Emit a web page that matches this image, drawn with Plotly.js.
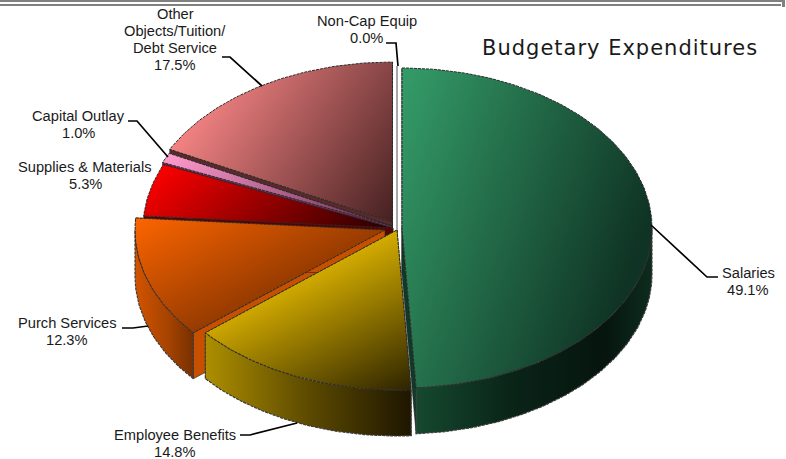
<!DOCTYPE html>
<html>
<head>
<meta charset="utf-8">
<script src="https://cdn.plot.ly/plotly-3.0.1.min.js"></script>
<style>html,body{margin:0;padding:0;background:#fff}#chart{width:786px;height:459px}</style>
</head>
<body>
<div id="chart"></div>
<script>
// Budget shares, in percent, clockwise from twelve o'clock.
const categories = ['Salaries', 'Employee Benefits', 'Purch Services', 'Supplies & Materials', 'Capital Outlay', 'Other Objects/Tuition/Debt Service', 'Non-Cap Equip'];
const shares = [49.1, 14.8, 12.3, 5.3, 1.0, 17.5, 0.0];
const labelNames = [['Salaries'], ['Employee Benefits'], ['Purch Services'], ['Supplies & Materials'], ['Capital Outlay'], ['Other', 'Objects/Tuition/', 'Debt Service'], ['Non-Cap Equip']];
const chartTitle = 'Budgetary Expenditures';

// Pie geometry in plot units.
const RX = 250, RY = 160, DEPTH = 46;
const centres = [[402, 228], [397, 230], [385, 230], [393, 228], [392, 226], [392.5, 222], [397, 222]];
// Top-face gradient per slice: start point, end point, start colour, end colour.
const topFaces = [
  [[402, 100], [660, 190], '#339966', '#0f3324'],
  [[207, 300], [290, 465], '#ecc000', '#1f1800'],
  [[135, 215], [205, 350], '#ff6600', '#853400'],
  [[165, 160], [290, 300], '#ff0000', '#330000'],
  [[170, 155], [300, 300], '#ff99cc', '#663050'],
  [[175, 145], [375, 275], '#f28282', '#3a1a1a'],
  [[397, 60], [397, 230], '#b0b0b0', '#b0b0b0']
];
// Outer wall colours run left to right across the slice.
const wallFaces = [
  [[[0, '#15492f'], [0.4, '#0a2418'], [0.8, '#06150e'], [1, '#0d2c1e']], 416, 652],
  [[[0, '#ad8e00'], [0.5, '#5c4a00'], [1, '#1e1600']], 206, 411],
  [[[0, '#d25400'], [0.55, '#a84400'], [1, '#783000']], 135, 193],
  null, null, null, null
];
const cutColours = ['#0f3a28', '#4a3c00', '#c65000', '#5c0000', '#7a3060', '#5a2a2a', '#b0b0b0'];

const leaderLines = [
  [[651, 225], [707, 277], [718, 277]],
  [[297, 423], [250, 435], [240, 435]],
  [[148, 326], [133, 328], [122, 328]],
  null,
  [[168, 157], [137, 121], [128, 121]],
  [[262, 86], [230, 57], [222, 57]],
  [[398, 66], [396, 43], [386, 43]]
];
// Centre of the first line of each label.
const labelSpots = [[748, 273], [175, 435], [67, 323], [85, 167], [78.5, 116], [175, 14], [366.5, 21]];
const LINE_STEP = 17;

const rad = d => d * Math.PI / 180;
const onRim = (c, deg, drop) => [c[0] + RX * Math.sin(rad(deg)), c[1] - RY * Math.cos(rad(deg)) + (drop || 0)];
function arc(c, from, to, drop) {
  const pts = [], n = Math.max(2, Math.ceil(Math.abs(to - from)));
  for (let i = 0; i <= n; i++) pts.push(onRim(c, from + (to - from) * i / n, drop));
  return pts;
}
function poly(pts, extra) {
  return Object.assign({
    x: pts.map(p => p[0]), y: pts.map(p => p[1]),
    type: 'scatter', mode: 'lines', fill: 'toself', hoverinfo: 'skip', showlegend: false
  }, extra);
}

// Slice spans in degrees, derived from the shares.
const total = shares.reduce((a, b) => a + b, 0);
let running = 0;
const spans = shares.map(v => { const s = running; running += v; return [s / total * 360, running / total * 360]; });

const edge = {color: '#2a2a2a', width: 1, dash: '3px,1px'};
const gradients = [];
const paintOrder = [5, 4, 3, 2, 0, 1];
const traces = [];

paintOrder.forEach(i => {
  const c = centres[i], [a0, a1] = spans[i];
  // Cut faces behind the top.
  [a0, a1].forEach(a => {
    const rim = onRim(c, a), low = onRim(c, a, DEPTH);
    traces.push(poly([c, rim, low, [c[0], c[1] + DEPTH], c], {
      fillcolor: cutColours[i], line: {color: '#222', width: 0.6}
    }));
  });
  // Outer wall, front half only.
  const from = Math.max(a0, 90), to = Math.min(a1, 270);
  if (to > from && wallFaces[i]) {
    const pts = arc(c, from, to, 0).concat(arc(c, to, from, DEPTH));
    pts.push(pts[0]);
    const uid = 'wall' + i;
    traces.push(poly(pts, {
      uid: uid, line: {color: '#3c3c3c', width: 1.2, dash: '3px,1px'},
      fillgradient: {type: 'horizontal', colorscale: wallFaces[i][0]}
    }));
    gradients.push([uid, [wallFaces[i][1], 0], [wallFaces[i][2], 0]]);
  }
  // Top face.
  const pts = [c].concat(arc(c, a0, a1)); pts.push(c);
  const uid = 'top' + i, f = topFaces[i];
  traces.push(poly(pts, {
    uid: uid, line: edge,
    fillgradient: {type: 'horizontal', colorscale: [[0, f[2]], [1, f[3]]]}
  }));
  gradients.push([uid, f[0], f[1]]);
});

// The empty slice shows only as a thin grey seam.
traces.push({x: [centres[6][0], centres[6][0]], y: [centres[6][1] - RY + 4, centres[6][1] + 8],
  type: 'scatter', mode: 'lines', line: {color: '#a8a8a8', width: 2}, hoverinfo: 'skip', showlegend: false});

leaderLines.forEach(l => {
  if (!l) return;
  traces.push({x: l.map(p => p[0]), y: l.map(p => p[1]), type: 'scatter', mode: 'lines',
    line: {color: '#000', width: 1.7}, hoverinfo: 'skip', showlegend: false});
});

const labelFont = {family: 'Liberation Sans, Arial, sans-serif', size: 14.67, color: '#1a1a1a'};
const annotations = [];
labelNames.forEach((lines, i) => {
  lines.concat([shares[i].toFixed(1) + '%']).forEach((text, k) => {
    annotations.push({
      x: labelSpots[i][0], y: labelSpots[i][1] + k * LINE_STEP, xref: 'x', yref: 'y', showarrow: false,
      xanchor: 'center', yanchor: 'middle', align: 'center', font: labelFont, text
    });
  });
});
annotations.push({
  x: 619.5, y: 48, xref: 'x', yref: 'y', showarrow: false, xanchor: 'center', yanchor: 'middle',
  font: {family: 'DejaVu Sans, Verdana, sans-serif', size: 21, color: '#1a1a1a'}, text: chartTitle
});

const band = (x0, y0, x1, y1) => ({type: 'rect', xref: 'x', yref: 'y', x0, y0, x1, y1, fillcolor: '#808080', line: {width: 0}, layer: 'below'});

const layout = {
  width: 786, height: 459, margin: {l: 0, r: 0, t: 0, b: 0},
  paper_bgcolor: '#fff', plot_bgcolor: '#fff', showlegend: false,
  xaxis: {range: [0, 786], visible: false, fixedrange: true},
  yaxis: {range: [459, 0], visible: false, fixedrange: true},
  shapes: [band(0, 0, 785, 2), band(0, 4, 781, 6), band(782, 0, 785, 7)],
  annotations
};

Plotly.newPlot('chart', traces, layout, {staticPlot: true, displayModeBar: false}).then(gd => {
  // Tilt each gradient along its own axis; the stops run from the far end.
  gradients.forEach(([uid, a, b]) => {
    const el = gd.querySelector('linearGradient[id$="' + uid + '"]');
    if (!el) return;
    el.setAttribute('gradientUnits', 'userSpaceOnUse');
    el.setAttribute('x1', b[0]); el.setAttribute('y1', b[1]);
    el.setAttribute('x2', a[0]); el.setAttribute('y2', a[1]);
  });
  // Open up the heading's tracking.
  gd.querySelectorAll('.annotation-text').forEach(t => {
    if (t.textContent === chartTitle) t.style.letterSpacing = '1px';
  });
});
</script>
</body>
</html>
